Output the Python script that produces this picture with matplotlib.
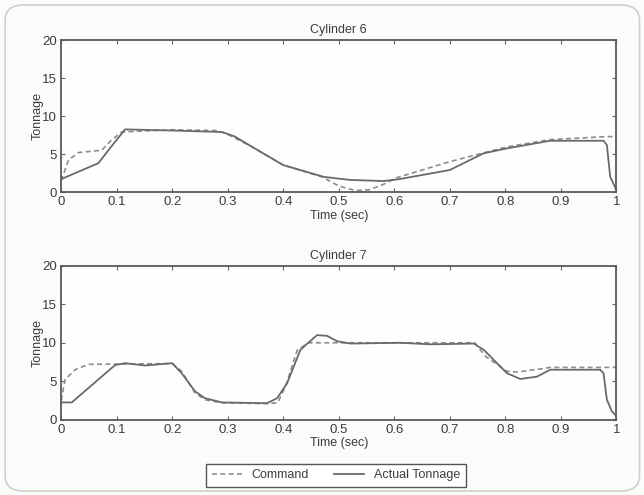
import matplotlib

matplotlib.use("Agg")
import matplotlib.pyplot as plt
from matplotlib.patches import FancyBboxPatch
from matplotlib.lines import Line2D

plt.rcParams["font.family"] = ["Liberation Sans Narrow", "Liberation Sans", "DejaVu Sans"]

# Cylinder 6
t6_cmd = [0, 0.013, 0.031, 0.073, 0.09, 0.109, 0.2, 0.28, 0.3, 0.345, 0.40, 0.47,
          0.50, 0.53, 0.555, 0.58, 0.605, 0.70, 0.803, 0.881, 0.983, 1.0]
v6_cmd = [1.5, 4.2, 5.2, 5.5, 6.8, 7.9, 8.2, 8.1, 7.6, 5.9, 3.55, 2.0,
          0.8, 0.2, 0.3, 1.0, 1.9, 4.0, 5.95, 6.9, 7.3, 7.3]
t6_act = [0, 0.067, 0.085, 0.115, 0.2, 0.29, 0.313, 0.345, 0.40, 0.473, 0.52,
          0.58, 0.605, 0.70, 0.761, 0.803, 0.881, 0.977, 0.983, 0.989, 0.998, 1.0]
v6_act = [1.7, 3.8, 5.5, 8.25, 8.1, 7.9, 7.3, 5.9, 3.55, 2.0, 1.6,
          1.45, 1.65, 2.9, 5.1, 5.75, 6.75, 6.75, 6.2, 2.0, 0.6, 0.3]

# Cylinder 7
t7_cmd = [0, 0.007, 0.025, 0.049, 0.2, 0.217, 0.241, 0.259, 0.29, 0.371, 0.39,
          0.405, 0.425, 0.445, 0.745, 0.765, 0.803, 0.821, 0.863, 0.881, 1.0]
v7_cmd = [2.5, 5.2, 6.5, 7.2, 7.3, 6.3, 3.5, 2.6, 2.2, 2.1, 2.2,
          4.5, 9.0, 10.0, 10.0, 8.2, 6.3, 6.2, 6.6, 6.8, 6.8]
t7_act = [0, 0.019, 0.097, 0.115, 0.151, 0.2, 0.217, 0.241, 0.259, 0.29, 0.371,
          0.389, 0.407, 0.431, 0.461, 0.479, 0.497, 0.521, 0.611, 0.665, 0.743,
          0.761, 0.803, 0.827, 0.857, 0.881, 0.971, 0.977, 0.983, 0.992, 1.0]
v7_act = [2.25, 2.25, 7.1, 7.35, 7.05, 7.35, 6.05, 3.7, 2.8, 2.25, 2.15,
          2.8, 4.75, 9.1, 11.0, 10.9, 10.2, 9.9, 10.0, 9.8, 9.9,
          9.1, 6.05, 5.3, 5.6, 6.5, 6.5, 6.05, 2.6, 1.1, 0.5]

x_ticks = [0, 0.1, 0.2, 0.3, 0.4, 0.5, 0.6, 0.7, 0.8, 0.9, 1]
x_labels = ["0", "0.1", "0.2", "0.3", "0.4", "0.5", "0.6", "0.7", "0.8", "0.9", "1"]
y_ticks = [0, 5, 10, 15, 20]

panels = [
    ("Cylinder 6", t6_cmd, v6_cmd, t6_act, v6_act, [0.095, 0.612, 0.862, 0.307]),
    ("Cylinder 7", t7_cmd, v7_cmd, t7_act, v7_act, [0.095, 0.152, 0.862, 0.311]),
]

cmd_color = "#8c8c8c"
act_color = "#6a6a6a"
text_color = "#3c3c3c"

fig = plt.figure(figsize=(6.44, 4.95), dpi=100)
fig.patch.set_facecolor("#fbfbfa")

# rounded frame around the whole figure
frame = FancyBboxPatch((0.008, 0.008), 0.985, 0.982,
                       boxstyle="round,pad=0,rounding_size=0.03",
                       transform=fig.transFigure, facecolor="none",
                       edgecolor="#cfcfcf", linewidth=1.2)
fig.patches.append(frame)

for title, tc, vc, ta, va, pos in panels:
    ax = fig.add_axes(pos)
    ax.set_facecolor("#fefefe")
    ax.plot(tc, vc, color=cmd_color, linestyle="--", linewidth=1.2, dashes=(3, 2))
    ax.plot(ta, va, color=act_color, linestyle="-", linewidth=1.3)
    ax.set_xlim(0, 1)
    ax.set_ylim(0, 20)
    ax.set_xticks(x_ticks)
    ax.set_xticklabels(x_labels)
    ax.set_yticks(y_ticks)
    ax.tick_params(direction="in", top=True, right=True, length=3, width=0.8,
                   colors="#666666", labelcolor=text_color, labelsize=9.5, pad=3)
    for s in ax.spines.values():
        s.set_color("#5a5a5a")
        s.set_linewidth(1.3)
    ax.set_title(title, fontsize=9, color=text_color, pad=5)
    ax.set_xlabel("Time (sec)", fontsize=9, color=text_color, labelpad=1)
    ax.set_ylabel("Tonnage", fontsize=9, color=text_color, labelpad=-1)

handles = [
    Line2D([], [], color=cmd_color, linestyle="--", dashes=(3, 2), linewidth=1.2),
    Line2D([], [], color=act_color, linestyle="-", linewidth=1.3),
]
leg = fig.legend(handles, ["Command", "Actual Tonnage"], loc="center",
                 bbox_to_anchor=(0.522, 0.04), ncol=2, fontsize=9, frameon=True,
                 fancybox=False, handlelength=2.4, columnspacing=2.0,
                 borderpad=0.45, labelcolor=text_color, framealpha=1)
leg.get_frame().set_edgecolor("#555555")
leg.get_frame().set_linewidth(1.0)

fig.savefig("out.png", dpi=100, facecolor=fig.get_facecolor())
